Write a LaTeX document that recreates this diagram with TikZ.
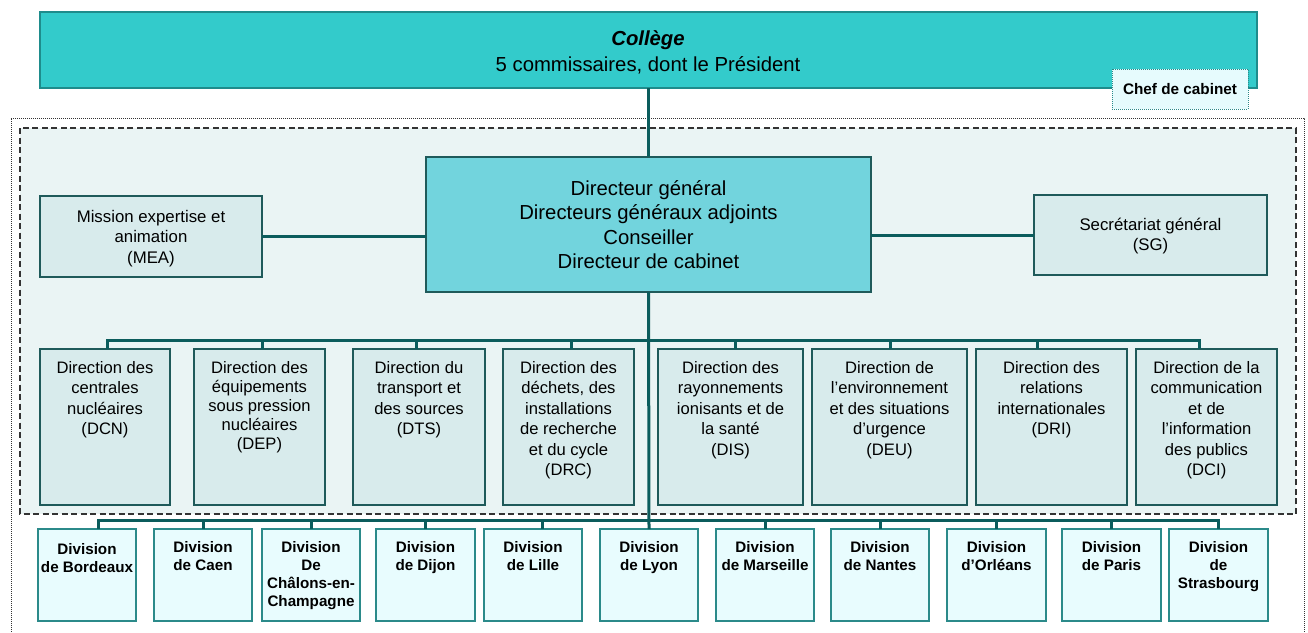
\documentclass[tikz,border=0pt]{standalone}
\usepackage{fontspec}
\setmainfont{Liberation Sans}
\usetikzlibrary{fit,calc}
\definecolor{college}{HTML}{33CBCB}
\definecolor{collegeborder}{HTML}{1E8C8C}
\definecolor{dgfill}{HTML}{72D4DD}
\definecolor{dirfill}{HTML}{D8EBEC}
\definecolor{dirborder}{HTML}{1F5A5A}
\definecolor{divfill}{HTML}{E8FCFE}
\definecolor{divborder}{HTML}{2B8A8A}
\definecolor{connc}{HTML}{0B5C5C}
\definecolor{zonefill}{HTML}{EAF4F4}
\definecolor{cheffill}{HTML}{E6FBFD}
\definecolor{dashc}{HTML}{333333}
\tikzset{
  boxbase/.style={inner sep=0pt, outer sep=0pt},
  collegebox/.style={boxbase, fill=college, draw=collegeborder, line width=1.5pt},
  dgbox/.style={boxbase, fill=dgfill, draw=dirborder, line width=1.5pt},
  dirbox/.style={boxbase, fill=dirfill, draw=dirborder, line width=1.5pt},
  divbox/.style={boxbase, fill=divfill, draw=divborder, line width=1.3pt},
  chefbox/.style={boxbase, fill=cheffill, draw=divborder, dash pattern=on 1pt off 1pt, line width=1pt},
  conn/.style={draw=connc, line width=3pt},
  bigtext/.style={inner sep=0pt, align=center, font=\fontsize{20.3}{24.5}\selectfont},
  sidetext/.style={inner sep=0pt, align=center, font=\fontsize{16.8}{20.3}\selectfont},
  dirtext/.style={inner sep=0pt, align=center, font=\fontsize{16.6}{20.5}\selectfont, anchor=north},
  divtext/.style={inner sep=0pt, align=center, font=\bfseries\fontsize{15.2}{17.8}\selectfont, anchor=north},
}
\begin{document}
\begin{tikzpicture}[x=1pt,y=-1pt]
\useasboundingbox (0,0) rectangle (1308,632);
% frames
\draw[dash pattern=on 1pt off 1pt, draw=dashc, line width=0.9pt] (11,632) -- (11,118) -- (1304,118) -- (1304,632);
\draw[dash pattern=on 6pt off 3.5pt, draw=dashc, line width=1.2pt, fill=zonefill] (20,128) rectangle (1296,514);
% top level
\node[collegebox, fit={(40,12) (1257,88)}] (college) {};
\node[bigtext, font=\fontsize{20.3}{26}\selectfont] (college-t) at (648,52.5) {\textbf{\textit{Collège}}\\5 commissaires, dont le Président};
\node[chefbox, fit={(1112,69) (1248,109)}] (chef) {};
\node[inner sep=0pt, font=\bfseries\fontsize{15.3}{18}\selectfont] (chef-t) at (chef.center) {Chef de cabinet};
% direction generale level
\node[dgbox, fit={(426,157) (871,292)}] (dg) {};
\node[dirbox, fit={(40,196) (262,277)}] (mea) {};
\node[dirbox, fit={(1034,195) (1267,275)}] (sg) {};
% directions
\node[dirbox, fit={(40,349) (170,505)}] (dcn) {};
\node[dirbox, fit={(194,349) (325,505)}] (dep) {};
\node[dirbox, fit={(353,349) (485,505)}] (dts) {};
\node[dirbox, fit={(503,349) (634,505)}] (drc) {};
\node[dirbox, fit={(658,349) (803,505)}] (dis) {};
\node[dirbox, fit={(812,349) (967,505)}] (deu) {};
\node[dirbox, fit={(976,349) (1127,505)}] (dri) {};
\node[dirbox, fit={(1136,349) (1277,505)}] (dci) {};
% divisions
\node[divbox, fit={(38,529) (136,621)}] (bordeaux) {};
\node[divbox, fit={(154,529) (252,621)}] (caen) {};
\node[divbox, fit={(262,529) (360,621)}] (chalons) {};
\node[divbox, fit={(376,529) (475,621)}] (dijon) {};
\node[divbox, fit={(484,529) (582,621)}] (lille) {};
\node[divbox, fit={(600,529) (698,621)}] (lyon) {};
\node[divbox, fit={(716,529) (814,621)}] (marseille) {};
\node[divbox, fit={(831,529) (929,621)}] (nantes) {};
\node[divbox, fit={(947,529) (1046,621)}] (orleans) {};
\node[divbox, fit={(1062,529) (1161,621)}] (paris) {};
\node[divbox, fit={(1169,529) (1268,621)}] (strasbourg) {};
% connectors
\coordinate (busd) at (0,340);
\coordinate (busv) at (0,520.5);
\coordinate (lvl1) at (0,236.5);
\coordinate (lvl2) at (0,235);
\draw[conn] (college.south) -- (dg.north);
\draw[conn] (mea.east |- lvl1) -- (dg.west |- lvl1);
\draw[conn] (sg.west |- lvl2) -- (dg.east |- lvl2);
\draw[conn] (dg.south) -- (lyon.north);
\draw[conn] ([xshift=2pt]dcn.north) |- ([xshift=-7pt]dci.north |- busd) -- ([xshift=-7pt]dci.north);
\foreach \n/\s in {dep/2.5, dts/-2.5, drc/2.5, dis/4.5, deu/0.5, dri/-14} {
  \draw[conn] ([xshift=\s pt]\n.north) -- ([xshift=\s pt]\n.north |- busd);
}
\draw[conn] ([xshift=11pt]bordeaux.north) |- (strasbourg.north |- busv) -- (strasbourg.north);
\foreach \n/\s in {caen/0, chalons/0, dijon/0, lille/9, marseille/0, nantes/0, orleans/0, paris/0} {
  \draw[conn] ([xshift=\s pt]\n.north) -- ([xshift=\s pt]\n.north |- busv);
}
% texts
\node[bigtext] (dg-t) at (dg.center) {Directeur général\\Directeurs généraux adjoints\\Conseiller\\Directeur de cabinet};
\node[sidetext] (mea-t) at ([yshift=-2pt]mea.center) {Mission expertise et\\animation\\(MEA)};
\node[sidetext] (sg-t) at ([yshift=-1pt]sg.center) {Secrétariat général\\(SG)};
\node[dirtext] (dcn-t) at ([yshift=-12pt]dcn.north) {Direction des\\centrales\\nucléaires\\(DCN)};
\node[dirtext, font=\fontsize{16.6}{19}\selectfont] (dep-t) at ([yshift=-12pt]dep.north) {Direction des\\équipements\\sous pression\\nucléaires\\(DEP)};
\node[dirtext] (dts-t) at ([yshift=-12pt]dts.north) {Direction du\\transport et\\des sources\\(DTS)};
\node[dirtext] (drc-t) at ([yshift=-12pt]drc.north) {Direction des\\déchets, des\\installations\\de recherche\\et du cycle\\(DRC)};
\node[dirtext] (dis-t) at ([yshift=-12pt]dis.north) {Direction des\\rayonnements\\ionisants et de\\la santé\\(DIS)};
\node[dirtext] (deu-t) at ([yshift=-12pt]deu.north) {Direction de\\l’environnement\\et des situations\\d’urgence\\(DEU)};
\node[dirtext] (dri-t) at ([yshift=-12pt]dri.north) {Direction des\\relations\\internationales\\(DRI)};
\node[dirtext] (dci-t) at ([yshift=-12pt]dci.north) {Direction de la\\communication\\et de\\l’information\\des publics\\(DCI)};
\node[divtext] (bordeaux-t) at ([yshift=-14pt]bordeaux.north) {Division\\de Bordeaux};
\node[divtext] (caen-t) at ([yshift=-12.5pt]caen.north) {Division\\de Caen};
\node[divtext] (chalons-t) at ([yshift=-12.5pt]chalons.north) {Division\\De\\Châlons-en-\\Champagne};
\node[divtext] (dijon-t) at ([yshift=-12.5pt]dijon.north) {Division\\de Dijon};
\node[divtext] (lille-t) at ([yshift=-12.5pt]lille.north) {Division\\de Lille};
\node[divtext] (lyon-t) at ([yshift=-12.5pt]lyon.north) {Division\\de Lyon};
\node[divtext] (marseille-t) at ([yshift=-12.5pt]marseille.north) {Division\\de Marseille};
\node[divtext] (nantes-t) at ([yshift=-12.5pt]nantes.north) {Division\\de Nantes};
\node[divtext] (orleans-t) at ([yshift=-12.5pt]orleans.north) {Division\\d’Orléans};
\node[divtext] (paris-t) at ([yshift=-12.5pt]paris.north) {Division\\de Paris};
\node[divtext] (strasbourg-t) at ([yshift=-12.5pt]strasbourg.north) {Division\\de\\Strasbourg};
\end{tikzpicture}
\end{document}
